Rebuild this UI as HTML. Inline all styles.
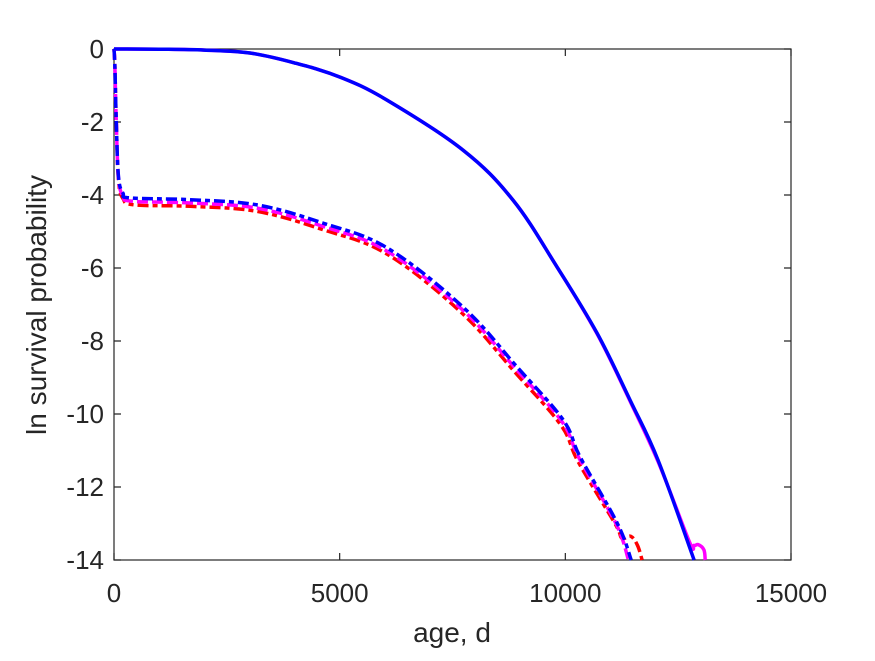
<!DOCTYPE html>
<html><head><meta charset="utf-8"><style>
body{margin:0;background:#fff;}
svg text{font-family:"Liberation Sans",Arial,sans-serif;fill:#262626;}
</style></head><body>
<svg id="chart" width="875" height="656" xmlns="http://www.w3.org/2000/svg">
<rect width="875" height="656" fill="#fff"/>
<g id="axes"></g>
<g id="series"></g>
</svg>
<script>
const xTicks=[0,5000,10000,15000];
const xTickLabels=["0","5000","10000","15000"];
const yTicks=[0,-2,-4,-6,-8,-10,-12,-14];
const yTickLabels=["0","-2","-4","-6","-8","-10","-12","-14"];
const solidBlueT=[0,1000,2000,3010,4000,5008,6049,7733,8841,9816,10702,11434,12054,12852];
const solidBlueV=[0,-0.005,-0.03,-0.11,-0.38,-0.77,-1.40,-2.77,-4.14,-5.97,-7.78,-9.62,-11.26,-14];
const solidMagT=[0,1000,2000,3010,4000,5008,6049,7733,8841,9816,10702,11434,12054,12750,12850,12950,13070,13100];
const solidMagV=[0,-0.005,-0.03,-0.11,-0.38,-0.77,-1.40,-2.77,-4.14,-5.97,-7.80,-9.65,-11.30,-13.5,-13.6,-13.58,-13.72,-14];
const dashBlueT=[0,20,50,100,200,355,1690,3170,4630,6050,7733,8930,9950,10330,11150,11460];
const dashBlueV=[0,-0.5,-2,-3.5,-3.95,-4.08,-4.13,-4.27,-4.77,-5.45,-7.07,-8.71,-10.16,-11.18,-12.99,-14];
const dashMagT=[0,20,50,100,200,400,1690,3170,4630,6050,7700,8900,9920,10300,11120,11400];
const dashMagV=[0,-0.5,-2,-3.55,-4.03,-4.17,-4.22,-4.36,-4.86,-5.54,-7.12,-8.76,-10.2,-11.2,-13.0,-14];
const dashRedT=[0,20,50,100,200,450,1690,3170,4630,6050,7680,8880,9900,10280,11100,11250,11450,11600,11700];
const dashRedV=[0,-0.5,-2,-3.6,-4.1,-4.27,-4.31,-4.45,-4.95,-5.62,-7.2,-8.85,-10.3,-11.3,-13.0,-13.4,-13.35,-13.6,-14];

const L=114,R=791,T=49,B=560;
const xs=t=>L+(t-0)/15000*(R-L);
const ys=v=>T+(0-v)/14*(B-T);
const NS="http://www.w3.org/2000/svg";
const ax=document.getElementById('axes'),sg=document.getElementById('series');
function mk(tag,attrs,parent){const e=document.createElementNS(NS,tag);for(const k in attrs)e.setAttribute(k,attrs[k]);parent.appendChild(e);return e;}

const box=mk('rect',{x:L,y:T,width:R-L,height:B-T,fill:'none',stroke:'#262626','stroke-width':1.2},ax);


xTicks.forEach((t,i)=>{
  const x=xs(t);
  const tk=mk('path',{d:`M${x},${B}V${B-7}M${x},${T}V${T+7}`,stroke:'#262626','stroke-width':1.2},ax);
  
  
  const tx=mk('text',{x:x,y:602,'text-anchor':'middle','font-size':26},ax);
  tx.textContent=xTickLabels[i];
  
  
});
yTicks.forEach((v,i)=>{
  const y=ys(v);
  const tk=mk('path',{d:`M${L},${y}H${L+7}M${R},${y}H${R-7}`,stroke:'#262626','stroke-width':1.2},ax);
  
  
  const tx=mk('text',{x:104,y:y+9,'text-anchor':'end','font-size':26},ax);
  tx.textContent=yTickLabels[i];
  
  
});
const xl=mk('text',{x:452,y:642,'text-anchor':'middle','font-size':28},ax);
xl.textContent='age, d';


const yl=mk('text',{x:0,y:0,'text-anchor':'middle','font-size':28,transform:'translate(46,305) rotate(-90)'},ax);
yl.textContent='ln survival probability';



function line(T_,V_,color,dash,name){
  const P=T_.map((t,i)=>[xs(t),ys(V_[i])]);
  let d='M'+P[0][0].toFixed(1)+','+P[0][1].toFixed(1);
  const k=0.35;
  for(let i=0;i<P.length-1;i++){
    const p0=P[Math.max(i-1,0)],p1=P[i],p2=P[i+1],p3=P[Math.min(i+2,P.length-1)];
    const c1=[p1[0]+(p2[0]-p0[0])*k/2,p1[1]+(p2[1]-p0[1])*k/2];
    const c2=[p2[0]-(p3[0]-p1[0])*k/2,p2[1]-(p3[1]-p1[1])*k/2];
    d+=`C${c1[0].toFixed(1)},${c1[1].toFixed(1)} ${c2[0].toFixed(1)},${c2[1].toFixed(1)} ${p2[0].toFixed(1)},${p2[1].toFixed(1)}`;
  }
  const p=mk('path',{d:d,fill:'none',stroke:color,'stroke-width':3.5,'stroke-linejoin':'round'},sg);
  if(dash)p.setAttribute('stroke-dasharray',dash);
  
  
}
line(dashRedT,dashRedV,'#ff0000','11 4 5 4','red-dashed-series');
line(dashMagT,dashMagV,'#ff00ff','11 4','magenta-dashed-series');
line(dashBlueT,dashBlueV,'#0000ff','11 4 5 4','blue-dashed-series');
line(solidMagT,solidMagV,'#ff00ff',null,'magenta-solid-series');
line(solidBlueT,solidBlueV,'#0000ff',null,'blue-solid-series');
</script>
</body></html>
